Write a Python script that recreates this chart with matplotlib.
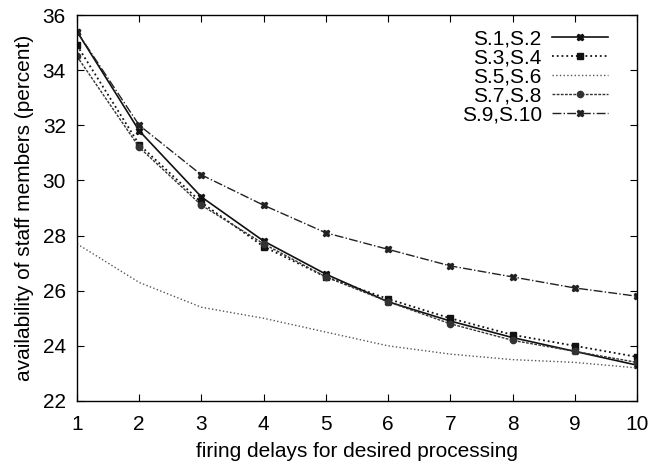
import matplotlib
matplotlib.use("Agg")
import matplotlib.pyplot as plt

plt.rcParams["font.family"] = ["Liberation Sans", "DejaVu Sans"]

delays = [1, 2, 3, 4, 5, 6, 7, 8, 9, 10]
s1_s2 = [35.4, 31.8, 29.4, 27.8, 26.6, 25.6, 24.9, 24.3, 23.8, 23.3]
s3_s4 = [34.9, 31.3, 29.2, 27.6, 26.5, 25.7, 25.0, 24.4, 24.0, 23.6]
s5_s6 = [27.7, 26.3, 25.4, 25.0, 24.5, 24.0, 23.7, 23.5, 23.4, 23.2]
s7_s8 = [34.5, 31.2, 29.1, 27.7, 26.5, 25.6, 24.8, 24.2, 23.8, 23.4]
s9_s10 = [35.4, 32.0, 30.2, 29.1, 28.1, 27.5, 26.9, 26.5, 26.1, 25.8]

fig = plt.figure(figsize=(6.5, 4.66), dpi=100)
ax = fig.add_axes([77 / 650, 1 - 401 / 466, 560 / 650, 386 / 466])

ax.plot(delays, s1_s2, ls="-", color="#111111", lw=1.2, marker="X", ms=5, label="S.1,S.2")
ax.plot(delays, s3_s4, ls=":", color="#111111", lw=1.3, marker="s", ms=5, label="S.3,S.4")
ax.plot(delays, s5_s6, ls=":", color="#555555", lw=1.0, label="S.5,S.6")
ax.plot(delays, s7_s8, ls=(0, (2, 1)), color="#333333", lw=1.0, marker="o", ms=4.5, label="S.7,S.8")
ax.plot(delays, s9_s10, ls="-.", color="#222222", lw=1.0, marker="X", ms=5, label="S.9,S.10")

ax.set_xlim(1, 10)
ax.set_ylim(22, 36)
ax.set_xticks(delays)
ax.set_yticks(range(22, 37, 2))
ax.tick_params(direction="in", top=True, right=True, labelsize=15, length=5)
ax.tick_params(axis="x", pad=10)
ax.tick_params(axis="y", pad=8)
ax.set_xlabel("firing delays for desired processing", fontsize=15, labelpad=6)
ax.set_ylabel("availability of staff members (percent)", fontsize=15, labelpad=6)
for s in ax.spines.values():
    s.set_linewidth(1.0)

ax.legend(loc="upper right", frameon=False, markerfirst=False, fontsize=15,
          handlelength=2.7, labelspacing=0.0, borderaxespad=0.5, handletextpad=0.5,
          borderpad=0.2, bbox_to_anchor=(0.975, 1.0))

fig.savefig("out.png", dpi=100, facecolor="white")
